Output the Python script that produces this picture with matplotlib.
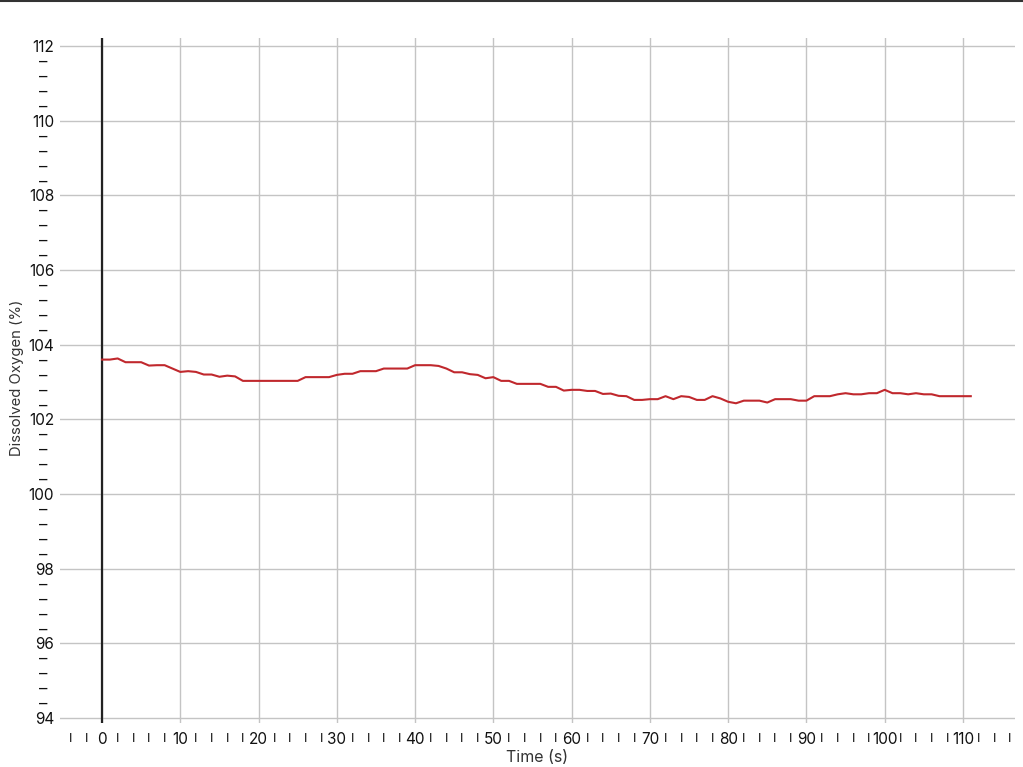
import numpy as np
from matplotlib import pyplot as plt
from matplotlib.lines import Line2D

plt.rcParams['font.family'] = ['Inter', 'DejaVu Sans']

# time in seconds, one reading per second
time_s = list(range(0, 112))

# dissolved oxygen (%)
oxygen = [
    103.60, 103.60, 103.63, 103.53, 103.53, 103.53, 103.44, 103.45, 103.45, 103.36,
    103.27, 103.29, 103.27, 103.20, 103.20, 103.14, 103.17, 103.15, 103.03, 103.03,
    103.03, 103.03, 103.03, 103.03, 103.03, 103.03, 103.13, 103.13, 103.13, 103.13,
    103.19, 103.22, 103.22, 103.29, 103.29, 103.29, 103.36, 103.36, 103.36, 103.36,
    103.45, 103.45, 103.45, 103.43, 103.36, 103.26, 103.26, 103.21, 103.19, 103.10,
    103.13, 103.03, 103.03, 102.95, 102.95, 102.95, 102.95, 102.87, 102.87, 102.77,
    102.79, 102.79, 102.76, 102.76, 102.68, 102.69, 102.63, 102.62, 102.52, 102.52,
    102.54, 102.54, 102.62, 102.54, 102.62, 102.60, 102.52, 102.52, 102.62, 102.56,
    102.47, 102.43, 102.50, 102.50, 102.50, 102.45, 102.54, 102.54, 102.54, 102.50,
    102.50, 102.62, 102.62, 102.62, 102.67, 102.70, 102.67, 102.67, 102.70, 102.70,
    102.79, 102.70, 102.70, 102.67, 102.70, 102.67, 102.67, 102.62, 102.62, 102.62,
    102.62, 102.62,
]

x_major = list(range(0, 111, 10))
x_minor = [v for v in range(-4, 117, 2) if v % 10 != 0]
y_major = list(range(94, 113, 2))
y_minor = [round(v, 1) for v in np.arange(94.4, 112, 0.4) if abs(v / 2 - round(v / 2)) > 0.01]

fig = plt.figure(figsize=(10.23, 7.67), dpi=100)
ax = fig.add_axes([60 / 1023, 1 - 723 / 767, 955 / 1023, 685 / 767])

ax.plot(time_s, oxygen, color='#c0282d', lw=1.5, zorder=3)
ax.axvline(0, color='#222222', lw=1.6, zorder=2)

ax.set_xlim(-5.37, 116.65)
ax.set_ylim(93.866, 112.214)

ax.set_xticks(x_major, [str(v) for v in x_major])
ax.set_xticks(x_minor, ['I'] * len(x_minor), minor=True)
ax.set_yticks(y_major, [str(v) for v in y_major])
ax.set_yticks(y_minor, ['–'] * len(y_minor), minor=True)

ax.tick_params(axis='both', which='both', length=0, labelsize=11, labelcolor='#111111')
ax.tick_params(axis='x', which='major', pad=6.3)
ax.tick_params(axis='x', which='minor', pad=7, labelsize=9.5)
ax.tick_params(axis='y', which='major', pad=4.3)
ax.tick_params(axis='y', which='minor', pad=9.4, labelsize=12)

ax.grid(True, which='major', color='#c4c4c4', lw=1.0, zorder=0)
for s in ax.spines.values():
    s.set_visible(False)

fig.text(17 / 1023, 1 - 378 / 767, 'Dissolved Oxygen (%)', rotation=90,
         ha='center', va='center', fontsize=10.7, color='#333333')
fig.text(537 / 1023, 1 - 758 / 767, 'Time (s)', ha='center', va='center',
         fontsize=11.5, color='#333333')

# dark rule along the top edge
fig.add_artist(Line2D([0, 1], [1 - 1 / 767, 1 - 1 / 767], transform=fig.transFigure,
                      color='#333333', lw=1.5))

fig.savefig('out.png', dpi=100)
